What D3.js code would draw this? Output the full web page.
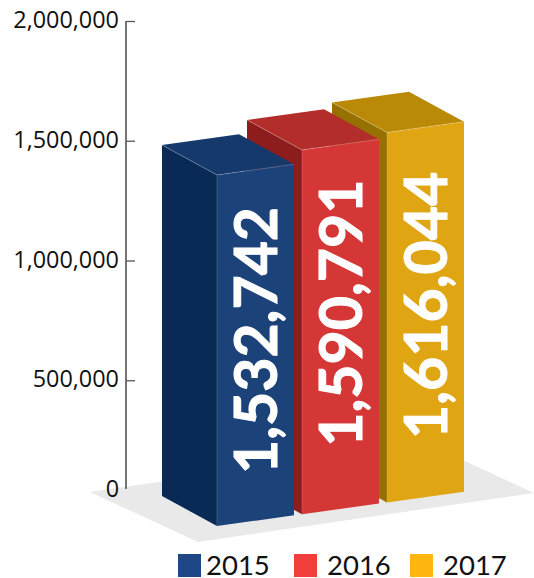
<!DOCTYPE html>
<html>
<head>
<meta charset="utf-8">
<script src="https://cdn.jsdelivr.net/npm/d3@7/dist/d3.min.js"></script>
<style>
  html, body { margin: 0; padding: 0; background: #fff; }
  svg { display: block; }
  text { font-family: "Open Sans", "Noto Sans", sans-serif; }
</style>
</head>
<body>
<svg id="chart" width="534" height="578"></svg>
<script>
// Visitor totals per year, drawn as extruded columns
const years = ["2015", "2016", "2017"];
const totals = [1532742, 1590791, 1616044];
const axisTicks = [0, 500000, 1000000, 1500000, 2000000];
const frontColors = ["#1c4379", "#d43736", "#dfa512"];
const sideColors = ["#0a2a56", "#8d1d1c", "#967000"];
const topColors = ["#15396b", "#b32d2b", "#ba8908"];
const legendColors = ["#1e4785", "#f23e3b", "#ffb610"];

const svg = d3.select("#chart");
const fmt = d3.format(",");

// Oblique projection of the columns
const depth = { x: -55, y: -30 };
const floorSlope = -0.1385;
const floorOrigin = { x: 217, y: 526 };

const x = d3.scaleBand().domain(years).range([217, 464]).paddingInner(0.094).paddingOuter(0).align(0);
const heightScale = d3.scaleLinear().domain([0, 2000000]).range([0, 458]);
const axisY = d3.scaleLinear().domain([0, 2000000]).range([500, 21]);
const baseY = px => floorOrigin.y + (px - floorOrigin.x) * floorSlope;

// Floor plane under the columns
svg.append("polygon")
  .attr("points", [[90, 492], [198, 542], [534, 493], [426, 443]].join(" "))
  .attr("fill", "#e9e9e9");

// Value axis: ticks point inwards, the line stops short of the zero position
const axisG = svg.append("g").attr("transform", "translate(126,0)");
axisG.call(d3.axisLeft(axisY).tickValues(axisTicks).tickFormat(fmt).tickSize(0).tickPadding(7));
axisG.select(".domain").remove();
axisG.append("line").attr("y1", 21).attr("y2", 489).attr("stroke", "#666").attr("stroke-width", 1.8);
axisG.selectAll(".tick text")
  .attr("font-size", 23.4)
  .attr("fill", "#111")
  .style("font-family", '"Open Sans", sans-serif')
  .attr("dy", d => d === 0 ? "-0.17em" : "0.28em");
axisG.selectAll(".tick")
  .filter(d => d > 0)
  .append("line")
  .attr("x2", 9)
  .attr("stroke", "#555")
  .attr("stroke-width", 1.3);

// Columns, back to front
const bars = years.map((year, i) => {
  const x0 = x(year), w = x.bandwidth();
  const h = heightScale(totals[i]);
  const bl = [x0, baseY(x0)], br = [x0 + w, baseY(x0 + w)];
  const tl = [bl[0], bl[1] - h], tr = [br[0], br[1] - h];
  const shift = p => [p[0] + depth.x, p[1] + depth.y];
  return { year, i, bl, br, tl, tr, shift };
}).reverse();

const edge = "rgba(255,255,255,0.28)";
const barG = svg.selectAll("g.bar").data(bars).join("g").attr("class", "bar");

barG.append("polygon")
  .attr("points", d => [d.tl, d.bl, d.shift(d.bl), d.shift(d.tl)].join(" "))
  .attr("fill", d => sideColors[d.i]);
barG.append("polygon")
  .attr("points", d => [d.tl, d.tr, d.shift(d.tr), d.shift(d.tl)].join(" "))
  .attr("fill", d => topColors[d.i]);
barG.append("polygon")
  .attr("points", d => [d.bl, d.br, d.tr, d.tl].join(" "))
  .attr("fill", d => frontColors[d.i]);
barG.append("polyline")
  .attr("points", d => [d.shift(d.tl), d.tl, d.tr].join(" "))
  .attr("fill", "none").attr("stroke", edge).attr("stroke-width", 0.8);
barG.append("line")
  .attr("x1", d => d.tl[0]).attr("y1", d => d.tl[1])
  .attr("x2", d => d.bl[0]).attr("y2", d => d.bl[1])
  .attr("stroke", edge).attr("stroke-width", 0.6);

// Value labels run up the front faces, each nudged above the face centre
const labelLift = [10, 19, 12];
barG.append("text")
  .attr("transform", d => {
    const cx = (d.bl[0] + d.br[0]) / 2 + 0.5;
    const cy = (d.bl[1] + d.tl[1]) / 2 - labelLift[d.i];
    return `translate(${cx},${cy}) rotate(-90)`;
  })
  .attr("text-anchor", "middle")
  .attr("dy", "0.36em")
  .attr("font-size", 59)
  .attr("font-weight", 700)
  .attr("fill", "#fff")
  .attr("stroke", "#fff")
  .attr("stroke-width", 1)
  .style("font-family", 'Lato, sans-serif')
  .text(d => fmt(totals[d.i]));

// Legend along the bottom
const legendX = d3.scalePoint().domain(years).range([178, 410]);
const legend = svg.selectAll("g.key").data(years).join("g")
  .attr("class", "key")
  .attr("transform", d => `translate(${legendX(d)},554)`);
legend.append("rect").attr("width", 23).attr("height", 23)
  .attr("fill", (d, i) => legendColors[i]);
legend.append("text")
  .attr("x", (d, i) => i === 0 ? 28 : 33)
  .attr("y", 21)
  .attr("font-size", 27.5)
  .attr("fill", "#111")
  .style("font-family", 'Lato, sans-serif')
  .text(d => d);
</script>
</body>
</html>
